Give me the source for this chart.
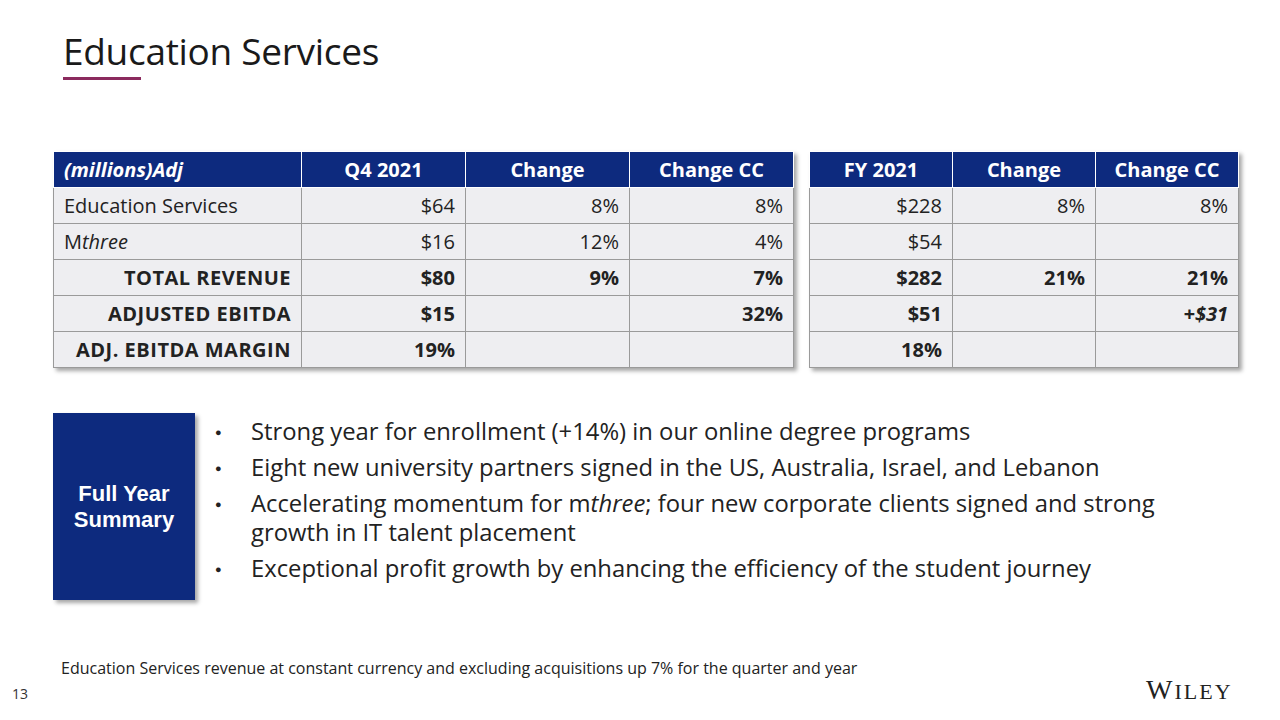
<!DOCTYPE html>
<html><head><meta charset="utf-8">
<script src="https://cdn.jsdelivr.net/npm/chart.js@4/dist/chart.umd.min.js"></script>
<style>
body{margin:0;width:1280px;height:720px;background:#fff;font-family:"Open Sans",sans-serif;position:relative;overflow:hidden}
h1{position:absolute;left:63px;top:25px;margin:0;font-weight:400;font-size:37px;color:#1a1a1a;letter-spacing:-0.3px}
.ul{position:absolute;left:63px;top:77px;width:78px;height:3px;background:#8b2a5e}
table{position:absolute;top:151px;border-collapse:collapse;box-shadow:3px 3px 4px rgba(0,0,0,.35);font-size:20px}
td,th{border:1px solid #9a9a9a;height:35px;padding:0 10px;background:#eeeef1;color:#222;text-align:right;white-space:nowrap}
th{background:#0d2a7e;color:#fff;font-weight:700;text-align:center;border-color:#fff}
td.l{text-align:left}
td.b{font-weight:700}
.box{position:absolute;left:53px;top:413px;width:142px;height:187px;background:#0d2a7e;color:#fff;font:700 22px "Liberation Sans",Arial,sans-serif;display:flex;align-items:center;justify-content:center;text-align:center;box-shadow:3px 3px 4px rgba(0,0,0,.35)}
ul{position:absolute;left:215px;top:417px;margin:0;padding:0;list-style:none;font-size:23.8px;color:#222;width:960px}
li{position:relative;padding-left:36px;line-height:29px;margin-bottom:7px}
li:before{content:"●";position:absolute;left:0;font-size:11px;top:0}
.fn{position:absolute;left:61px;top:657px;font-size:16px;color:#222}
.pg{position:absolute;left:12px;top:684px;font-size:14px;color:#333}
.w{position:absolute;left:1146px;top:674px;font:400 28px "Liberation Serif",serif;letter-spacing:2px;color:#222}
canvas{display:none}
</style></head><body>
<h1>Education Services</h1><div class="ul"></div>
<table id="t1" style="left:53px"></table>
<table id="t2" style="left:809px"></table>
<div class="box">Full Year<br>Summary</div>
<ul id="bul"></ul>
<div class="fn">Education Services revenue at constant currency and excluding acquisitions up 7% for the quarter and year</div>
<div class="pg">13</div>
<div class="w">W<span style="font-size:22px">ILEY</span></div>
<canvas id="c"></canvas>
<script>
const rowLabels = ["Education Services", "M<i>three</i>", "TOTAL REVENUE", "ADJUSTED EBITDA", "ADJ. EBITDA MARGIN"];
const q4Headers = ["<i>(millions)Adj</i>", "Q4 2021", "Change", "Change CC"];
const q4Values = [["$64","8%","8%"],["$16","12%","4%"],["$80","9%","7%"],["$15","","32%"],["19%","",""]];
const fyHeaders = ["FY 2021", "Change", "Change CC"];
const fyValues = [["$228","8%","8%"],["$54","",""],["$282","21%","21%"],["$51","","<i>+$31</i>"],["18%","",""]];
const bullets = [
  "Strong year for enrollment (+14%) in our online degree programs",
  "Eight new university partners signed in the US, Australia, Israel, and Lebanon",
  "Accelerating momentum for m<i>three</i>; four new corporate clients signed and strong growth in IT talent placement",
  "Exceptional profit growth by enhancing the efficiency of the student journey"
];
const bold = r => r >= 2 ? " b" : "";
let h = "<tr>" + q4Headers.map((x,i)=>`<th style="width:${[227,143,143,143][i]}px;${i==0?'text-align:left':''}">${x}</th>`).join("") + "</tr>";
rowLabels.forEach((l,r)=>{
  h += `<tr><td class="${r<2?'l':'b'}" style="${r>=2?'text-align:right;letter-spacing:.5px':''}">${l}</td>` + q4Values[r].map(v=>`<td class="${bold(r)}">${v}</td>`).join("") + "</tr>";
});
document.getElementById("t1").innerHTML = h;
h = "<tr>" + fyHeaders.map(x=>`<th style="width:122px">${x}</th>`).join("") + "</tr>";
fyValues.forEach((row,r)=>{ h += "<tr>" + row.map(v=>`<td class="${bold(r)}">${v}</td>`).join("") + "</tr>"; });
document.getElementById("t2").innerHTML = h;
document.getElementById("bul").innerHTML = bullets.map(b=>`<li>${b}</li>`).join("");
</script>
</body></html>
